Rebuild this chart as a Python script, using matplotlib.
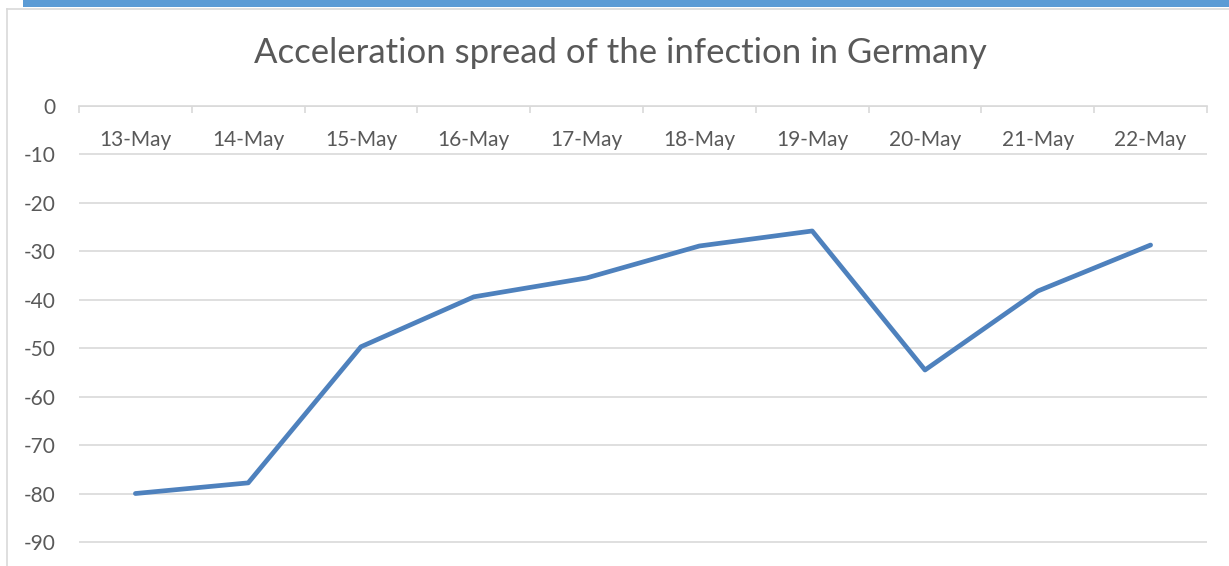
import matplotlib
matplotlib.use("Agg")
import matplotlib.pyplot as plt
from matplotlib.patches import Rectangle
from matplotlib.lines import Line2D
import numpy as np

dates = ['13-May', '14-May', '15-May', '16-May', '17-May',
         '18-May', '19-May', '20-May', '21-May', '22-May']
acceleration = [-80.0, -77.8, -49.7, -39.4, -35.5, -28.9, -25.8, -54.5, -38.2, -28.7]
y_ticks = [0, -10, -20, -30, -40, -50, -60, -70, -80, -90]

plt.rcParams['font.family'] = ['Lato', 'DejaVu Sans']
text_col = '#595959'
grid_col = '#d9d9d9'

W, H = 1229, 566
fig = plt.figure(figsize=(W / 100, H / 100), dpi=100)

# chart frame bits that show in the crop
fig.add_artist(Rectangle((23 / W, 1 - 7 / H), 1, 7 / H, transform=fig.transFigure,
                         color='#5b9bd5', lw=0))
fig.add_artist(Line2D([7 / W, 1], [1 - 8.5 / H, 1 - 8.5 / H], transform=fig.transFigure,
                      color=grid_col, lw=1.2))
fig.add_artist(Line2D([7 / W, 7 / W], [0, 1 - 8.5 / H], transform=fig.transFigure,
                      color=grid_col, lw=1.2))

# y=0 at pixel 106, 4.844 px per unit -> -100 sits below the picture
y0 = 1 - 106 / H
ybot = 1 - (106 + 100 * 4.844) / H
ax = fig.add_axes([79 / W, ybot, (1207 - 79) / W, y0 - ybot])

x = np.arange(len(dates))
ax.plot(x, acceleration, color='#4e81bd', lw=3.4, solid_capstyle='round',
        solid_joinstyle='round', zorder=3)

ax.set_xlim(-0.5, len(dates) - 0.5)
ax.set_ylim(-100, 0)
ax.set_yticks(y_ticks)
ax.set_yticklabels([str(v) for v in y_ticks])
ax.yaxis.grid(True, color=grid_col, lw=1.2)
ax.set_axisbelow(True)

for s in ['left', 'right', 'top']:
    ax.spines[s].set_visible(False)
ax.spines['bottom'].set_position(('data', 0))
ax.spines['bottom'].set_color(grid_col)
ax.spines['bottom'].set_linewidth(1.2)

ax.set_xticks(x)
ax.set_xticklabels(dates)
ax.set_xticks(np.arange(-0.5, len(dates)), minor=True)
ax.tick_params(axis='x', which='major', length=0, pad=17, labelsize=15, labelcolor=text_col)
ax.tick_params(axis='x', which='minor', length=5, width=1.2, color=grid_col, direction='out')
ax.tick_params(axis='y', length=0, pad=17, labelsize=15, labelcolor=text_col)

fig.text(620 / W, 1 - 53 / H, 'Acceleration spread of the infection in Germany',
         ha='center', va='center', fontsize=25, color=text_col)

fig.savefig('out.png', dpi=100)
